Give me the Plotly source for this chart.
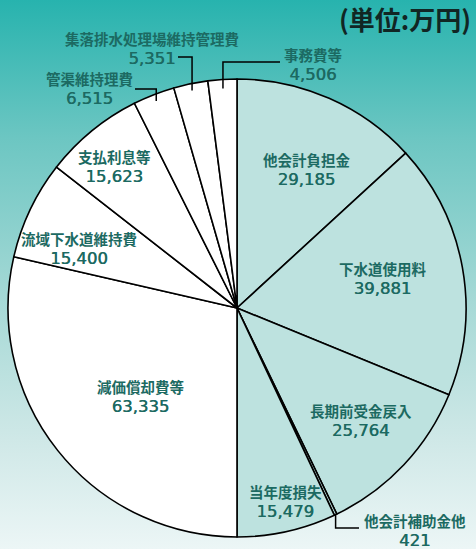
import math
import base64
import plotly.graph_objects as go

# ---------------- data ----------------
labels = ["他会計負担金", "下水道使用料", "長期前受金戻入", "他会計補助金他", "当年度損失",
          "減価償却費等", "流域下水道維持費", "支払利息等", "管渠維持理費",
          "集落排水処理場維持管理費", "事務費等"]
values = [29185, 39881, 25764, 421, 15479, 63335, 15400, 15623, 6515, 5351, 4506]
groups = ["収益", "収益", "収益", "収益", "収益",
          "費用", "費用", "費用", "費用", "費用", "費用"]
unit_label = "(単位:万円)"

# ---------------- style / layout ----------------
W, H = 476, 549
CX, CY, R = 237, 308, 229
group_colors = {"収益": "#bde2df", "費用": "#ffffff"}
TEXT_COLOR = "#1c6a62"
NAME_FONT = dict(family="Noto Sans CJK JP", size=14.5, color=TEXT_COLOR, weight="bold")
NUM_STYLE = ("font-family:'DejaVu Sans';font-size:16.5px;font-weight:normal;"
             "text-shadow:0.45px 0 0 " + TEXT_COLOR)

# inside-label placement: (radius fraction, angle offset in degrees)
inside_place = {
    "他会計負担金": (0.68, 3.0),
    "下水道使用料": (0.65, -1.5),
    "長期前受金戻入": (0.73, -1.0),
    "当年度損失": (0.87, -1.5),
    "減価償却費等": (0.57, -4.0),
    "流域下水道維持費": (0.74, -4.7),
    "支払利息等": (0.82, -1.6),
}
# outside labels: leader start fraction, elbow y(px), end x(px), label centre (px)
outside_place = {
    "事務費等": (0.96, 62, 280, (313, 64)),
    "集落排水処理場維持管理費": (0.97, 57, 178, (152, 48)),
    "管渠維持理費": (0.97, 89, 135, (89, 88)),
    "他会計補助金他": (1.0, 528, 359, (415, 530)),
}


def px(x, y):
    return x / W, 1 - y / H


def label_text(lab, v):
    return f"{lab}<br><span style=\"{NUM_STYLE}\">{v:,}</span>"


total = sum(values)
mids = []
cum = 0
for v in values:
    mids.append((cum + v / 2) / total * 360)
    cum += v

fig = go.Figure(go.Pie(
    labels=labels,
    values=values,
    sort=False,
    direction="clockwise",
    rotation=0,
    textinfo="none",
    hoverinfo="label+value",
    marker=dict(colors=[group_colors[g] for g in groups],
                line=dict(color="#000000", width=1.6)),
    domain=dict(x=[(CX - R) / W, (CX + R) / W], y=[1 - (CY + R) / H, 1 - (CY - R) / H]),
    showlegend=False,
))

annotations = []
shapes = []
for lab, v, mid in zip(labels, values, mids):
    if lab in inside_place:
        frac, dang = inside_place[lab]
        a = math.radians(mid + dang)
        cx = CX + frac * R * math.sin(a)
        cy = CY - frac * R * math.cos(a)
    else:
        frac, ey, ex, (cx, cy) = outside_place[lab]
        a = math.radians(mid)
        sx = CX + frac * R * math.sin(a)
        sy = CY - frac * R * math.cos(a)
        p0 = px(sx, sy)
        p1 = px(sx, ey)
        p2 = px(ex, ey)
        shapes.append(dict(type="path", xref="paper", yref="paper",
                           path=f"M {p0[0]} {p0[1]} L {p1[0]} {p1[1]} L {p2[0]} {p2[1]}",
                           line=dict(color="#000000", width=1.5)))
    xx, yp = px(cx, cy)
    annotations.append(dict(text=label_text(lab, v), x=xx, y=yp, xref="paper", yref="paper",
                            xanchor="center", yanchor="middle", align="center",
                            showarrow=False, font=NAME_FONT))

tx, ty = px(337, 19)
annotations.append(dict(text=unit_label, x=tx, y=ty, xref="paper", yref="paper",
                        xanchor="left", yanchor="middle", showarrow=False,
                        font=dict(family="Noto Sans CJK JP", size=26, color="#112624", weight="bold")))

svg = f'''<svg xmlns="http://www.w3.org/2000/svg" width="{W}" height="{H}" viewBox="0 0 {W} {H}" preserveAspectRatio="none">
<defs><linearGradient id="g" x1="0" y1="0" x2="0" y2="1">
<stop offset="0" stop-color="#27b3ae"/>
<stop offset="0.25" stop-color="#6cc6c2"/>
<stop offset="0.55" stop-color="#a6d9d6"/>
<stop offset="0.8" stop-color="#cfe8e7"/>
<stop offset="1" stop-color="#ecf6f6"/>
</linearGradient></defs>
<rect x="0" y="0" width="{W}" height="{H}" fill="url(#g)"/>
</svg>'''
bg_src = "data:image/svg+xml;base64," + base64.b64encode(svg.encode("utf-8")).decode("ascii")

fig.update_layout(
    width=W, height=H,
    margin=dict(l=0, r=0, t=0, b=0),
    paper_bgcolor="rgba(0,0,0,0)",
    plot_bgcolor="rgba(0,0,0,0)",
    annotations=annotations,
    shapes=shapes,
    images=[dict(source=bg_src, xref="paper", yref="paper", x=0, y=1, sizex=1, sizey=1,
                 xanchor="left", yanchor="top", sizing="stretch", layer="below")],
)

fig.write_html("out.html")
